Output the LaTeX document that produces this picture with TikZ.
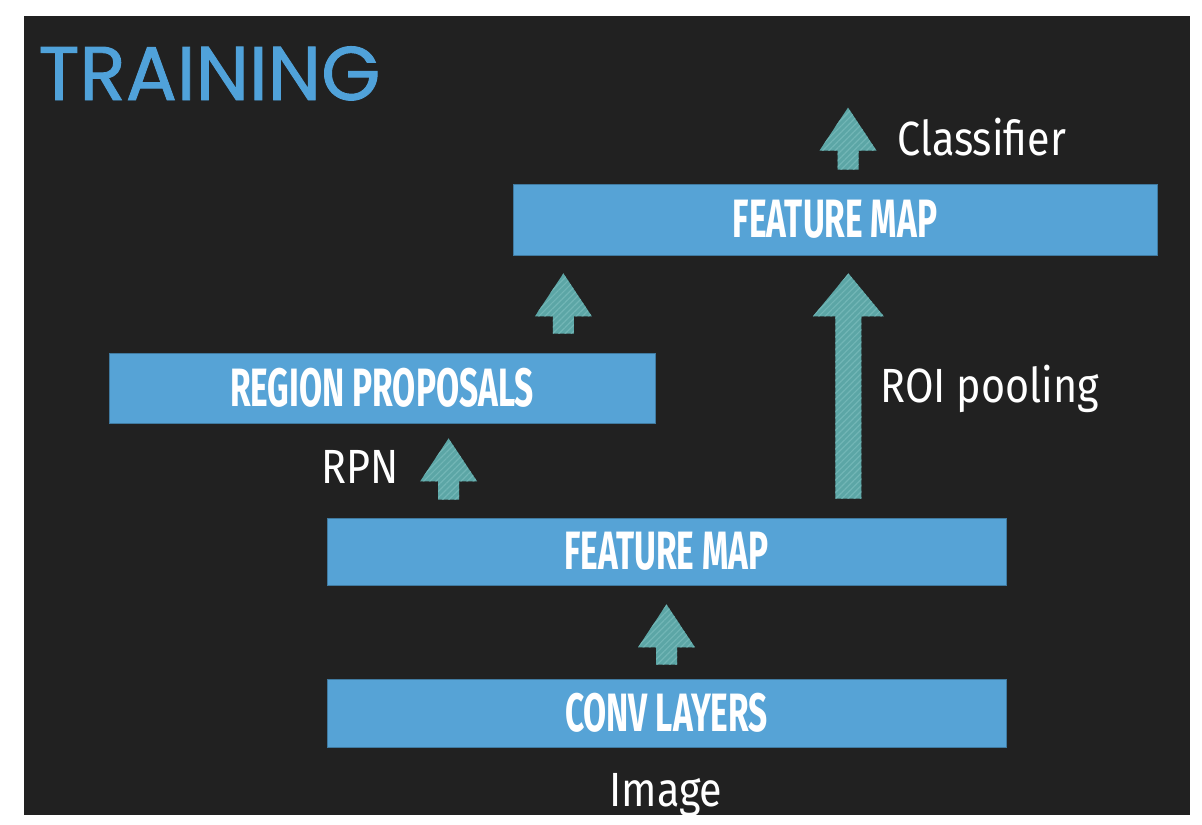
\documentclass[tikz,border=0pt]{standalone}
\usepackage{fontspec}
\setmainfont{Fira Sans}
\newfontfamily\titlefont[FakeBold=1.2]{Poppins}
\newfontfamily\boxfont[FakeStretch=0.62]{Fira Sans}
\newfontfamily\notefont[FakeStretch=0.86]{Fira Sans}
\usetikzlibrary{calc,patterns.meta}

\definecolor{bgdark}{HTML}{212121}
\definecolor{boxblue}{HTML}{56A3D6}
\definecolor{titleblue}{HTML}{50A2DA}
\definecolor{arrowteal}{HTML}{5CA6A6}
\definecolor{arrowstripe}{HTML}{72B6B6}

\tikzset{
  layer/.style={fill=boxblue, draw=boxblue!75!black, line width=0.4pt,
    text=white, inner sep=0pt,
    font=\boxfont\bfseries\fontsize{27}{27}\selectfont},
  note/.style={text=white, inner sep=0pt, font=\notefont\fontsize{24}{24}\selectfont},
  fatarrow/.style 2 args={draw=none, fill=arrowteal,
    postaction={pattern={Lines[angle=45,distance=2.2pt,line width=0.6pt]},
      pattern color=arrowstripe},
    to path={let \p1=(\tikztostart), \p2=(\tikztotarget) in
      ({\x1-#2},\y1) -- ({\x1-#2},{\y2-21.5pt}) -- ({\x1-#1},{\y2-21.5pt})
      -- (\x1,\y2) -- ({\x1+#1},{\y2-21.5pt}) -- ({\x1+#2},{\y2-21.5pt})
      -- ({\x1+#2},\y1) -- cycle}}
}

\begin{document}
\begin{tikzpicture}[x=0.5pt,y=-0.5pt]
\useasboundingbox (0,0) rectangle (1202,824);
\fill[white] (0,0) rectangle (1202,824);
\fill[bgdark] (24,16) rectangle (1190,815);

% title
\node[anchor=base west, inner sep=0pt, text=titleblue,
  font=\titlefont\fontsize{38}{38}\selectfont] (title) at (38,100) {TRAINING};

% layers
\node[layer, minimum width=322pt, minimum height=35.5pt] (fmtop) at (835,219.5) {FEATURE MAP};
\node[layer, minimum width=273pt, minimum height=35pt] (rp) at (382,388) {REGION PROPOSALS};
\node[layer, minimum width=339.5pt, minimum height=33.5pt] (fmmid) at (666.5,551.5) {FEATURE MAP};
\node[layer, minimum width=339.5pt, minimum height=34pt] (conv) at (666.5,713) {CONV LAYERS};

% arrows
\draw[fatarrow={14.25pt}{5.25pt}] ($(conv.north)+(0,-14)$) to ($(fmmid.south)+(0,19)$);
\draw[fatarrow={14.25pt}{5.25pt}] ($(fmmid.north west)+(122,-18)$) to ($(rp.south)+(0,15)$);
\draw[fatarrow={14.25pt}{5.25pt}] ($(rp.north east)+(-92,-19)$) to ($(fmtop.south)+(0,18)$);
\draw[fatarrow={17.75pt}{6.5pt}] ($(fmmid.north east)+(-158,-19)$) to ($(fmtop.south)+(0,18)$);
\draw[fatarrow={14.25pt}{5.25pt}] ($(fmtop.north)+(13,-14)$) to ($(fmtop.north)+(0,-76)$);

% labels
\node[note, anchor=base west] (cls) at (897,155) {Classifier};
\node[note, anchor=base west] (roi) at (880,402) {ROI pooling};
\node[note, anchor=base east] (rpn) at (399,483) {RPN};
\node[note, anchor=base] (img) at (666,806) {Image};

\end{tikzpicture}
\end{document}
